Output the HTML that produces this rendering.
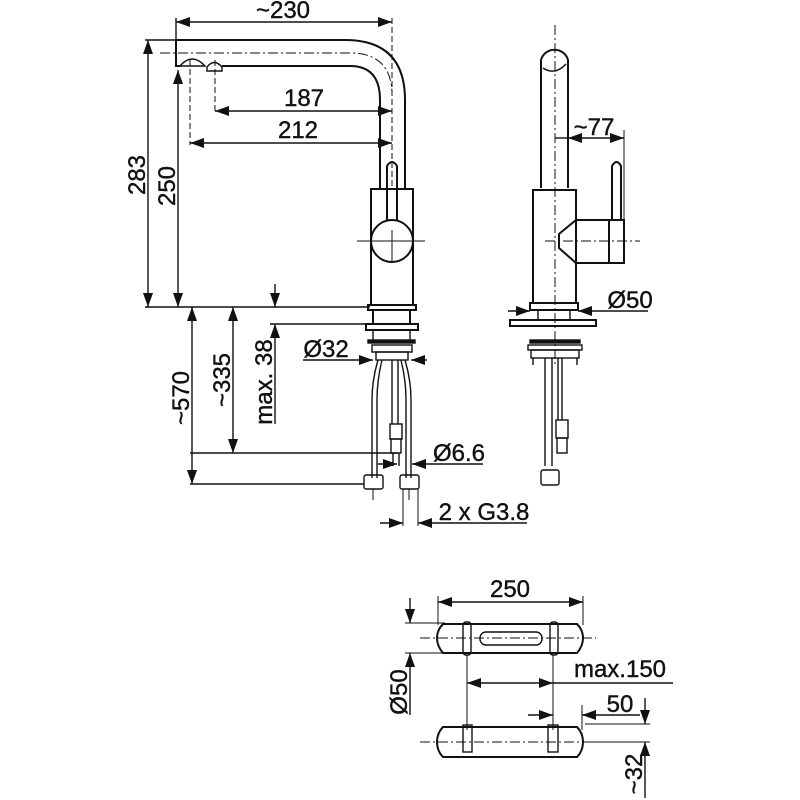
<!DOCTYPE html>
<html><head><meta charset="utf-8"><style>
html,body{margin:0;padding:0;background:#fff}
svg{display:block}
text{font-family:"Liberation Sans",Arial,sans-serif;font-size:24px;fill:#111;stroke:#111;stroke-width:0.4}
</style></head><body>
<svg width="800" height="800" viewBox="0 0 800 800" xmlns="http://www.w3.org/2000/svg">
<defs>
<marker id="a" viewBox="0 0 14 10" refX="14" refY="5" markerWidth="14" markerHeight="10" markerUnits="userSpaceOnUse" orient="auto-start-reverse"><path d="M0,0 L14,5 L0,10 z" fill="#111"/></marker>
</defs>
<g fill="none" stroke="#111" stroke-width="1.4">
<path d="M176,40 H345 Q405,40 405,100 V188" stroke-width="2"/>
<path d="M176,40 V66 H180 M222,66 H350 Q380,66 380,100 V188" stroke-width="2"/>
<path d="M180,66 Q192,52 205,66 Z"/>
<path d="M207,67 Q214,58 222,67 V71 H207 Z"/>
<path d="M160,53 H350 Q392,53 392,95" stroke-dasharray="10,3,2,3" stroke-width="1"/>
<path d="M190,60 V145 M215,60 V112" stroke-dasharray="6,3" stroke-width="1"/>
<path d="M392,18 V190" stroke-dasharray="6,3" stroke-width="1"/>
<rect x="371" y="189" width="42" height="116" stroke-width="2"/>
<rect x="368" y="305" width="48" height="5" stroke-width="2"/>
<circle cx="392" cy="241" r="21" stroke-width="2"/>
<path d="M387,220 V166 Q392,158 397,166 V220" stroke-width="2"/>
<path d="M357,241 H425 M392,230 V262" stroke-width="1"/>
<rect x="373" y="310" width="37" height="14" stroke-width="2"/>
<rect x="366" y="324" width="52" height="6" stroke-width="2"/>
<path d="M373,330 V342 M410,330 V342"/>
<rect x="368" y="340" width="47" height="3" fill="#111"/>
<rect x="372" y="345" width="40" height="7"/>
<rect x="376" y="352" width="32" height="8"/>
<path d="M378,360 Q372,380 372,400 V478 M382,360 Q377,380 377,400 V478"/>
<path d="M405,360 Q411,380 411,400 V478 M401,360 Q406,380 406,400 V478"/>
<path d="M392,360 V424 M398,360 V424"/>
<rect x="390" y="424" width="12" height="15"/><rect x="391" y="439" width="10" height="14"/>
<path d="M393,453 V466 M399,453 V466"/>
<rect x="364" y="475" width="19" height="14" rx="2"/><rect x="400" y="475" width="19" height="14" rx="2"/>
<path d="M373,489 V500 M409,489 V500 M403,489 V526 M418,489 V526" stroke-width="1"/>
<path d="M176,18 V40 M145,40 H176 M145,307 H370 M270,324 H366 M190,453 H398 M190,484 H364"/>
<line x1="176" y1="22" x2="392" y2="22" marker-start="url(#a)" marker-end="url(#a)"/>
<line x1="215" y1="111" x2="392" y2="111" marker-start="url(#a)" marker-end="url(#a)"/>
<line x1="190" y1="143" x2="392" y2="143" marker-start="url(#a)" marker-end="url(#a)"/>
<line x1="148" y1="40" x2="148" y2="307" marker-start="url(#a)" marker-end="url(#a)"/>
<line x1="178" y1="70" x2="178" y2="307" marker-start="url(#a)" marker-end="url(#a)"/>
<line x1="192" y1="307" x2="192" y2="484" marker-start="url(#a)" marker-end="url(#a)"/>
<line x1="233" y1="307" x2="233" y2="453" marker-start="url(#a)" marker-end="url(#a)"/>
<line x1="275" y1="284" x2="275" y2="307" marker-end="url(#a)"/>
<line x1="275" y1="424" x2="275" y2="324" marker-end="url(#a)"/>
<line x1="303" y1="360" x2="373" y2="360" marker-end="url(#a)"/>
<line x1="427" y1="360" x2="411" y2="360" marker-end="url(#a)"/>
<line x1="378" y1="464" x2="397" y2="464" marker-end="url(#a)"/>
<line x1="483" y1="464" x2="412" y2="464" marker-end="url(#a)"/>
<line x1="380" y1="523" x2="403" y2="523" marker-end="url(#a)"/>
<line x1="527" y1="523" x2="418" y2="523" marker-end="url(#a)"/>
<path d="M541,188 V60 A14,14 0 0 1 568,60 V188" stroke-width="2"/>
<path d="M543,68 Q555,76 566,64" stroke-width="1.4"/>
<rect x="533" y="190" width="43" height="113" stroke-width="2"/>
<path d="M576,220 H609 V263 H576 M576,220 L559,234 V248 L576,263" stroke-width="2"/>
<rect x="609" y="220" width="15" height="43" stroke-width="2"/>
<path d="M612,220 V166 Q616.5,158 621,166 V220" stroke-width="2"/>
<path d="M555,25 V365 M545,241 H640" stroke-dasharray="10,3,2,3" stroke-width="1"/>
<path d="M624,130 V220" stroke-width="1"/>
<line x1="555" y1="138" x2="568" y2="138"/>
<line x1="568" y1="138" x2="624" y2="138" marker-start="url(#a)" marker-end="url(#a)"/>
<rect x="530" y="303" width="48" height="7" stroke-width="2"/>
<rect x="538" y="310" width="32" height="10"/>
<rect x="510" y="320" width="86" height="6" stroke-width="2"/>
<rect x="530" y="340" width="50" height="3" fill="#111"/>
<rect x="528" y="345" width="54" height="5"/>
<rect x="531" y="350" width="48" height="8"/>
<path d="M533,358 V365 M577,358 V365 M545,358 V466 M552,358 V466 M558,358 V420 M562,358 V420"/>
<rect x="556" y="420" width="12" height="18"/><rect x="557" y="438" width="10" height="15"/>
<rect x="541" y="470" width="18" height="15" rx="2"/>
<line x1="508" y1="311" x2="530" y2="311" marker-end="url(#a)"/>
<line x1="648" y1="311" x2="578" y2="311" marker-end="url(#a)"/>
<path d="M443,624 H577 Q583,630 583,638 Q583,646 577,653 H443 Q437,646 437,638 Q437,630 443,624 Z" stroke-width="2"/>
<rect x="463" y="622" width="8" height="33" rx="3"/><rect x="550" y="622" width="8" height="33" rx="3"/>
<rect x="480" y="632" width="62" height="13" rx="6"/>
<path d="M420,638 H596" stroke-dasharray="10,3,2,3" stroke-width="1"/>
<path d="M438,596 V625 M583,596 V625 M405,623 H445 M405,653 H445 M467,655 V730 M553,655 V730" stroke-width="1"/>
<line x1="438" y1="602" x2="583" y2="602" marker-start="url(#a)" marker-end="url(#a)"/>
<line x1="410" y1="598" x2="410" y2="623" marker-end="url(#a)"/>
<line x1="410" y1="715" x2="410" y2="653" marker-end="url(#a)"/>
<line x1="467" y1="683" x2="553" y2="683" marker-start="url(#a)" marker-end="url(#a)"/>
<line x1="553" y1="683" x2="673" y2="683"/>
<line x1="528" y1="715" x2="553" y2="715" marker-end="url(#a)"/>
<line x1="640" y1="715" x2="582" y2="715" marker-end="url(#a)"/>
<path d="M582,705 V730 M585,724 H650 M585,742 H650" stroke-width="1"/>
<line x1="645" y1="698" x2="645" y2="724" marker-end="url(#a)"/>
<line x1="645" y1="798" x2="645" y2="742" marker-end="url(#a)"/>
<path d="M443,727 H577 Q583,733 583,742 Q583,751 577,757 H443 Q437,751 437,742 Q437,733 443,727 Z" stroke-width="2"/>
<rect x="463" y="725" width="9" height="27"/><rect x="548" y="725" width="10" height="27"/>
<path d="M420,742 H596" stroke-dasharray="10,3,2,3" stroke-width="1"/>
</g>
<text x="283" y="18" text-anchor="middle">~230</text>
<text x="304" y="106" text-anchor="middle">187</text>
<text x="298" y="138" text-anchor="middle">212</text>
<text transform="translate(145,175) rotate(-90)" text-anchor="middle">283</text>
<text transform="translate(175,186) rotate(-90)" text-anchor="middle">250</text>
<text transform="translate(189,398) rotate(-90)" text-anchor="middle">~570</text>
<text transform="translate(230,380) rotate(-90)" text-anchor="middle">~335</text>
<text transform="translate(272,382) rotate(-90)" text-anchor="middle">max. 38</text>
<text x="326" y="357" text-anchor="middle">Ø32</text>
<text x="459" y="461" text-anchor="middle">Ø6.6</text>
<text x="484" y="520" text-anchor="middle">2 x G3.8</text>
<text x="594" y="135" text-anchor="middle">~77</text>
<text x="630" y="308" text-anchor="middle">Ø50</text>
<text x="510" y="597" text-anchor="middle">250</text>
<text transform="translate(407,692) rotate(-90)" text-anchor="middle">Ø50</text>
<text x="620" y="677" text-anchor="middle">max.150</text>
<text x="620" y="712" text-anchor="middle">50</text>
<text transform="translate(642,774) rotate(-90)" text-anchor="middle">~32</text>
</svg>
</body></html>
